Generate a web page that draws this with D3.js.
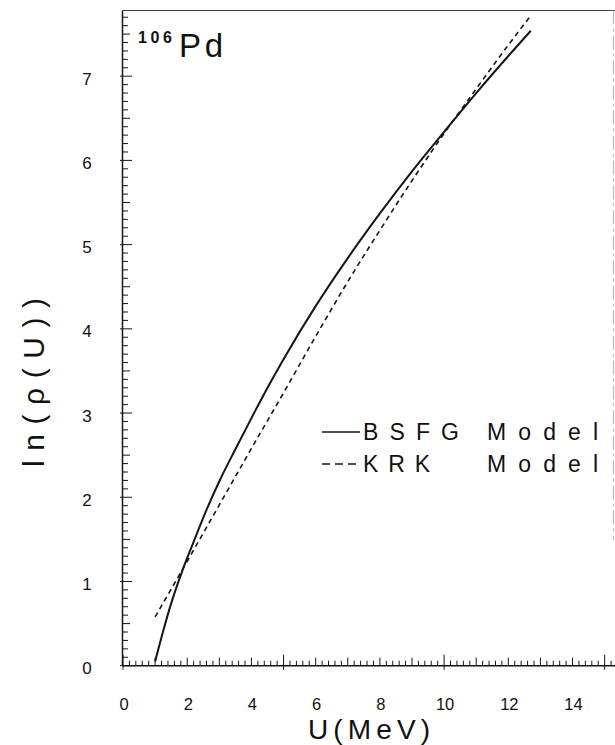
<!DOCTYPE html>
<html>
<head>
<meta charset="utf-8">
<script src="https://cdn.jsdelivr.net/npm/d3@7"></script>
<style>
  html, body { margin: 0; padding: 0; background: #fff; }
  svg { display: block; }
  text { font-family: "Liberation Sans", "DejaVu Sans", sans-serif; fill: #111; }
</style>
</head>
<body>
<svg id="chart" width="615" height="745"></svg>
<script>
// Level density of 106Pd: ln(rho(U)) vs excitation energy U (MeV)
const bsfgU   = [1.0, 1.25, 1.5, 1.85, 2.2, 2.6, 3.0, 3.5, 4.0, 4.5, 5.0, 6.0, 7.0, 8.0, 9.0, 10.0, 11.0, 12.0, 12.7];
const bsfgLnR = [0.05, 0.41, 0.74, 1.13, 1.47, 1.85, 2.19, 2.57, 2.94, 3.30, 3.64, 4.27, 4.84, 5.37, 5.87, 6.34, 6.80, 7.24, 7.54];

const krkU    = [1.0, 2.0, 3.0, 4.0, 5.0, 6.0, 7.0, 8.0, 9.0, 10.0, 11.0, 12.0, 12.7];
const krkLnR  = [0.58, 1.24, 1.91, 2.58, 3.24, 3.91, 4.56, 5.17, 5.76, 6.32, 6.85, 7.37, 7.72];

const xTickLabels = [0, 2, 4, 6, 8, 10, 12, 14];
const yTickLabels = [0, 1, 2, 3, 4, 5, 6, 7];
const legendNames = ["BSFG", "KRK"];

const svg = d3.select("#chart");

const x = d3.scaleLinear().domain([0, 15.26]).range([123, 613]);
const y = d3.scaleLinear().domain([0, 7.78]).range([665.7, 10.5]);

const ink = "#151515";

// frame: top border and faint right border
svg.append("line")
  .attr("x1", x(0)).attr("x2", 615)
  .attr("y1", y(7.78)).attr("y2", y(7.78))
  .attr("stroke", "#444").attr("stroke-width", 1.2);
svg.append("line")
  .attr("x1", 613.5).attr("x2", 613.5)
  .attr("y1", y(7.78)).attr("y2", 540)
  .attr("stroke", "#bbb").attr("stroke-width", 1.2)
  .attr("stroke-dasharray", "14,4,3,4");

// x axis ticks: every 0.2, longer every 1, longest every 5
const xMinor = d3.range(0, 15.21, 0.2).map(v => Math.round(v * 10) / 10);
const gx = svg.append("g");
gx.append("line")
  .attr("x1", x(0)).attr("x2", 615)
  .attr("y1", y(0)).attr("y2", y(0))
  .attr("stroke", ink).attr("stroke-width", 1.5);
gx.selectAll("line.tick").data(xMinor).join("line")
  .attr("class", "tick")
  .attr("x1", d => x(d)).attr("x2", d => x(d))
  .attr("y1", d => (Math.abs(d % 5) < 1e-6 ? y(0) + 4 : y(0)))
  .attr("y2", d => {
    if (Math.abs(d % 5) < 1e-6) return y(0) - 11;
    if (Math.abs(d - Math.round(d)) < 1e-6) return y(0) - 8;
    return y(0) - 5;
  })
  .attr("stroke", ink).attr("stroke-width", 1);
gx.selectAll("text").data(xTickLabels).join("text")
  .attr("x", d => x(d) + 1).attr("y", 710)
  .attr("text-anchor", "middle")
  .attr("font-size", 16.5)
  .text(d => d);

// y axis ticks: every 0.1, longer every 0.5, longest every 1
const yMinor = d3.range(0, 7.71, 0.1).map(v => Math.round(v * 10) / 10);
const gy = svg.append("g");
gy.append("line")
  .attr("x1", x(0) - 0.5).attr("x2", x(0) - 0.5)
  .attr("y1", y(0)).attr("y2", y(7.78))
  .attr("stroke", ink).attr("stroke-width", 1.5);
gy.selectAll("line.tick").data(yMinor).join("line")
  .attr("class", "tick")
  .attr("y1", d => y(d)).attr("y2", d => y(d))
  .attr("x1", d => (Math.abs(d - Math.round(d)) < 1e-6 ? x(0) - 3 : x(0)))
  .attr("x2", d => {
    if (Math.abs(d - Math.round(d)) < 1e-6) return x(0) + 9;
    if (Math.abs(d * 2 - Math.round(d * 2)) < 1e-6) return x(0) + 7;
    return x(0) + 5;
  })
  .attr("stroke", ink).attr("stroke-width", 1);
gy.selectAll("text").data(yTickLabels).join("text")
  .attr("x", 87).attr("y", d => y(d) + 8.5)
  .attr("text-anchor", "middle")
  .attr("font-size", 17)
  .text(d => d);

// curves
const line = d3.line().x(d => x(d[0])).y(d => y(d[1])).curve(d3.curveMonotoneX);
svg.append("path")
  .datum(d3.zip(bsfgU, bsfgLnR))
  .attr("d", line)
  .attr("fill", "none").attr("stroke", ink).attr("stroke-width", 2);
svg.append("path")
  .datum(d3.zip(krkU, krkLnR))
  .attr("d", line)
  .attr("fill", "none").attr("stroke", ink).attr("stroke-width", 1.6)
  .attr("stroke-dasharray", "5,4");

// nucleus label
svg.append("text").attr("x", 138).attr("y", 43)
  .attr("font-size", 16).attr("font-weight", "bold")
  .attr("textLength", 34).attr("lengthAdjust", "spacing")
  .text("106");
svg.append("text").attr("x", 179).attr("y", 57)
  .attr("font-size", 33)
  .attr("textLength", 44).attr("lengthAdjust", "spacing")
  .text("Pd");

// legend
const legY = [440, 472];
svg.append("line").attr("x1", 322).attr("x2", 360).attr("y1", 432).attr("y2", 432)
  .attr("stroke", ink).attr("stroke-width", 1.6);
svg.append("line").attr("x1", 322).attr("x2", 360).attr("y1", 464).attr("y2", 464)
  .attr("stroke", ink).attr("stroke-width", 1.6).attr("stroke-dasharray", "8,5");
legendNames.forEach((name, i) => {
  svg.append("text").attr("x", 363).attr("y", legY[i])
    .attr("font-size", 23)
    .attr("textLength", name === "BSFG" ? 96 : 67).attr("lengthAdjust", "spacing")
    .text(name);
  svg.append("text").attr("x", 487).attr("y", legY[i])
    .attr("font-size", 23)
    .attr("textLength", 111).attr("lengthAdjust", "spacing")
    .text("Model");
});

// axis titles
svg.append("text").attr("x", 308).attr("y", 739)
  .attr("font-size", 28)
  .attr("textLength", 122).attr("lengthAdjust", "spacing")
  .text("U(MeV)");
svg.append("text")
  .attr("transform", "translate(44,467) rotate(-90)")
  .attr("font-size", 30)
  .attr("textLength", 169).attr("lengthAdjust", "spacing")
  .text("ln(ρ(U))");
</script>
</body>
</html>
